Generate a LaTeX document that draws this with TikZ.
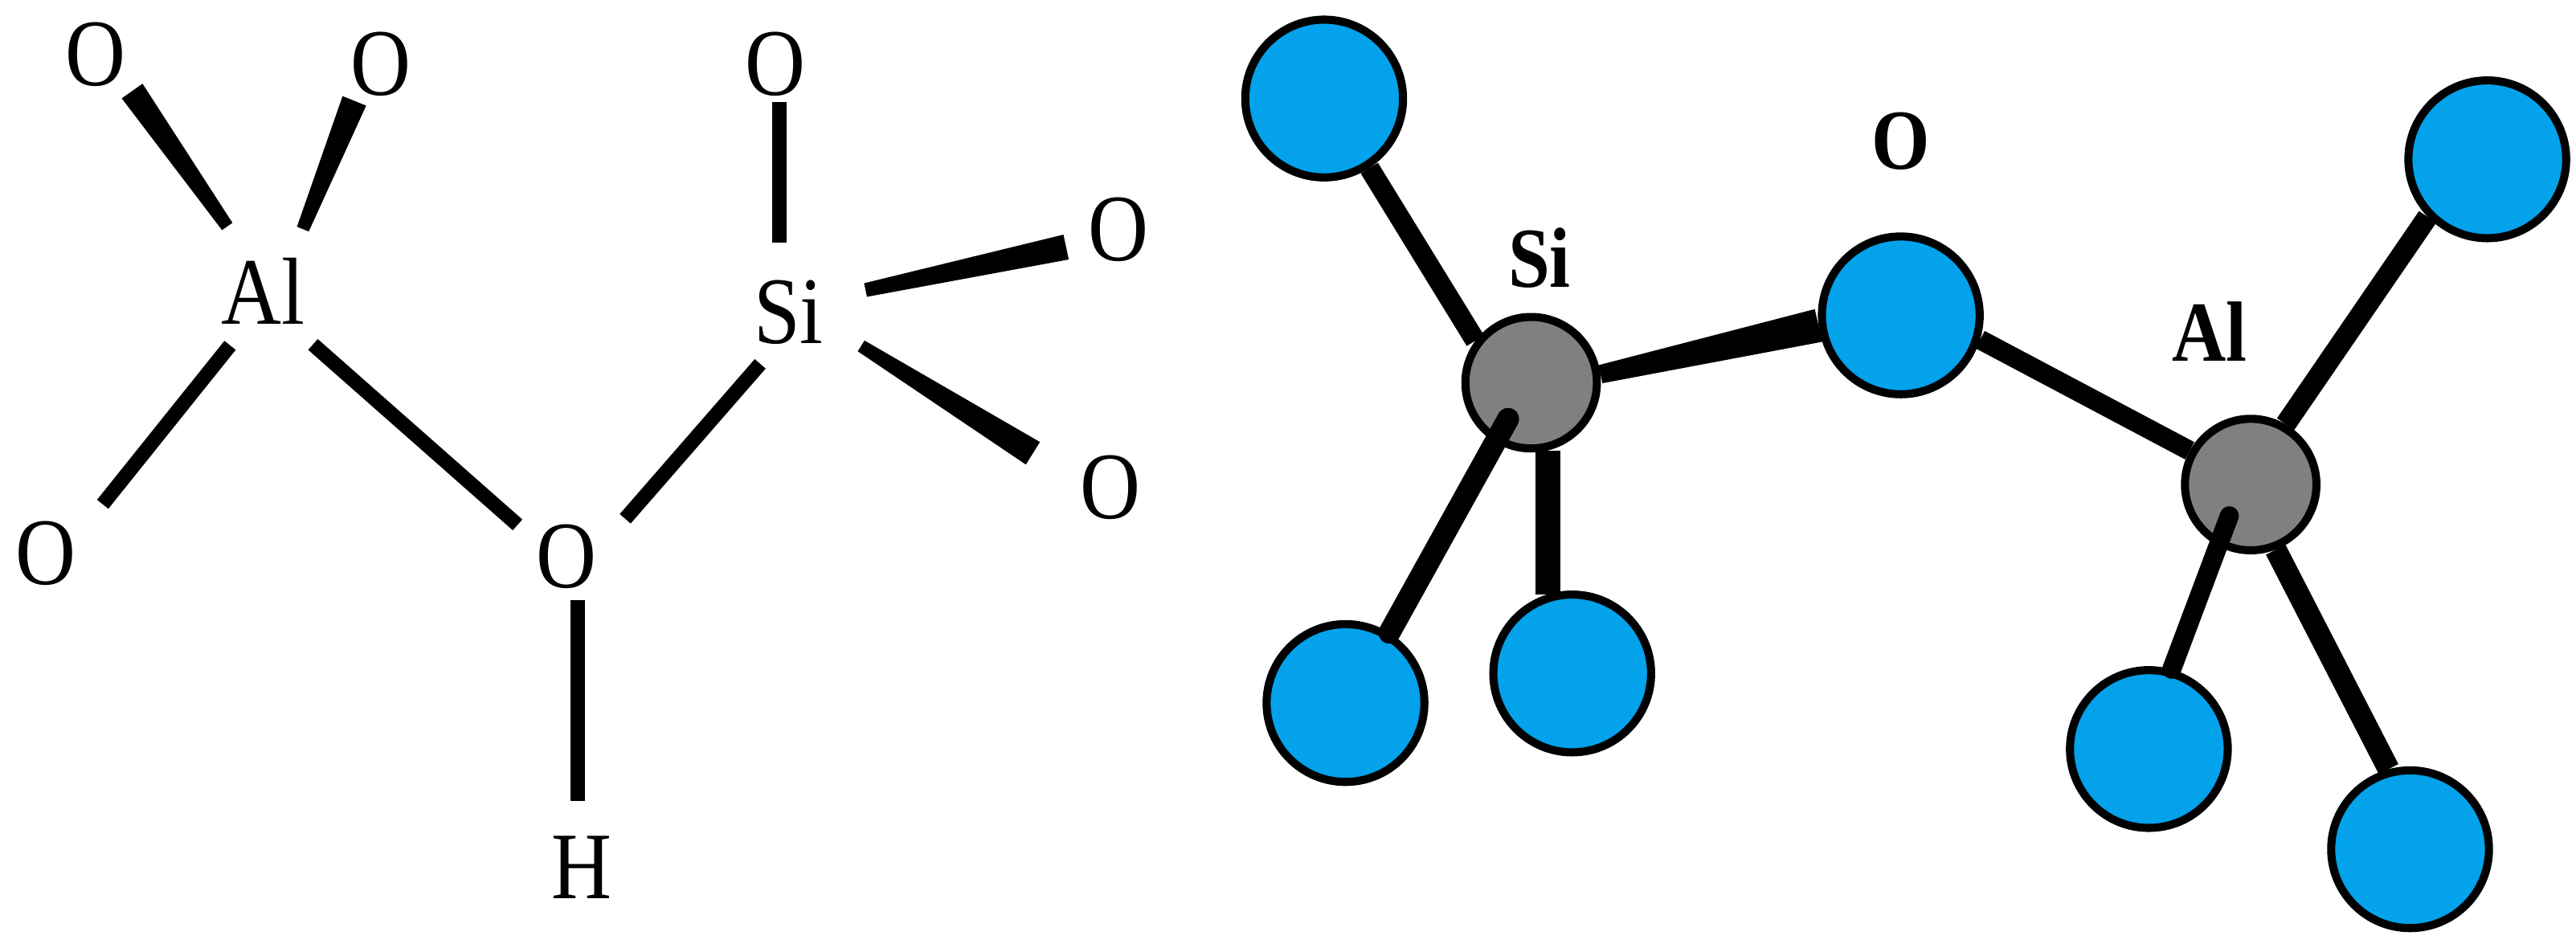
\documentclass[tikz,border=0pt]{standalone}
\usepackage{fontspec}
\setmainfont{Liberation Serif}[FakeStretch=0.875]
\usetikzlibrary{calc}
\definecolor{oxblue}{HTML}{03A2EB}
\definecolor{tgray}{HTML}{808080}
\begin{document}
\begin{tikzpicture}[x=0.01cm, y=-0.01cm]
	\tikzset{
		atom/.style = {circle, inner sep=0pt, minimum size=#1, font=\fontsize{16.5}{18}\selectfont},
		tag/.style = {inner sep=0pt, font=\fontsize{14.8}{16}\selectfont\bfseries},
		ball/.style = {circle, draw=black, line width=1.4pt, fill=oxblue, minimum size=0.96cm, inner sep=0pt},
		tball/.style = {circle, draw=black, line width=1.4pt, fill=tgray, minimum size=0.8cm, inner sep=0pt},
		bond/.style = {black, line width=2.5pt},
		rbond/.style = {black, line width=#1},
		wedge/.style 2 args = {fill=black, to path={
			($(\tikztostart)!#1!90:(\tikztotarget)$) -- ($(\tikztostart)!#1!-90:(\tikztotarget)$)
			-- ($(\tikztotarget)!#2!90:(\tikztostart)$) -- ($(\tikztotarget)!#2!-90:(\tikztostart)$) -- cycle}}
	}
	\useasboundingbox (0, 0) rectangle (1568, 577);
	\node[atom=0.88cm] (al) at (160, 177) {Al};
	\node[atom=0.96cm] (si) at (480, 190) {Si};
	\node[atom=0.62cm] (o1) at (58, 33) {O};
	\node[atom=0.54cm] (o2) at (232, 39) {O};
	\node[atom=0.46cm] (o3) at (472, 39) {O};
	\node[atom=0.66cm] (o4) at (681, 140) {O};
	\node[atom=1.02cm] (o5) at (676, 297) {O};
	\node[atom=0.90cm] (o6) at (28, 337) {O};
	\node[atom=0.70cm] (oh) at (345, 339) {O};
	\node[atom=0.80cm] (h) at (354, 528) {H};
	\path[wedge={1.1pt}{2.2pt}] (al.119) to (o1.-45);
	\path[wedge={1.1pt}{2.2pt}] (al.57) to (o2.-126);
	\path[wedge={1.2pt}{2.2pt}] (si.16) to (o4.-162);
	\path[wedge={1.1pt}{2.3pt}] (si.-25) to (o5.156);
	\draw[bond, shorten >=-1.2pt, shorten <=-1.7pt] (o3.-85 |- si.97) -- (o3.-85);
	\draw[bond, shorten <=-1.7pt] (al.-122) -- (o6.41);
	\draw[bond] (al.-47) -- (oh.147);
	\draw[bond, shorten <=-3.7pt, shorten >=2pt] (si.-122) -- (oh.30);
	\draw[bond, shorten <=-2.5pt] (oh.-79) -- (oh.-79 |- h.96);

	\node[ball] (ltop) at (806, 60) {};
	\node[ball] (lleft) at (819, 428) {};
	\node[ball] (lmid) at (957, 410) {};
	\node[ball] (obr) at (1157, 192) {};
	\node[ball] (rtop) at (1514, 97) {};
	\node[ball] (rmid) at (1308, 456) {};
	\node[ball] (rlow) at (1467, 517) {};
	\node[tball] (tsi) at (932, 233) {};
	\node[tball] (tal) at (1370, 295) {};
	\node[tag] (lsi) at (937, 157) {Si};
	\node[tag] (lo) at (1157, 86) {O};
	\node[tag] (lal) at (1345, 202) {Al};
	\coordinate (sidot) at (918, 255);
	\coordinate (aldot) at (1357, 314);
	\draw[rbond=3.5pt] (ltop.-57) -- (tsi.143);
	\path[wedge={1.6pt}{2.9pt}] (tsi.7) to (obr.-173);
	\draw[rbond=3.4pt] (obr.-17) -- (tal.151);
	\draw[rbond=3.6pt] (tal.60) -- (rtop.-136);
	\draw[rbond=3.8pt, line cap=round] (sidot) -- (lleft.58);
	\draw[rbond=4.2pt] (lmid.107 |- tsi.-78) -- (lmid.107);
	\draw[rbond=3.3pt, line cap=round] (aldot) -- (rmid.74);
	\draw[rbond=3.8pt] (tal.-69) -- (rlow.105);
\end{tikzpicture}
\end{document}
